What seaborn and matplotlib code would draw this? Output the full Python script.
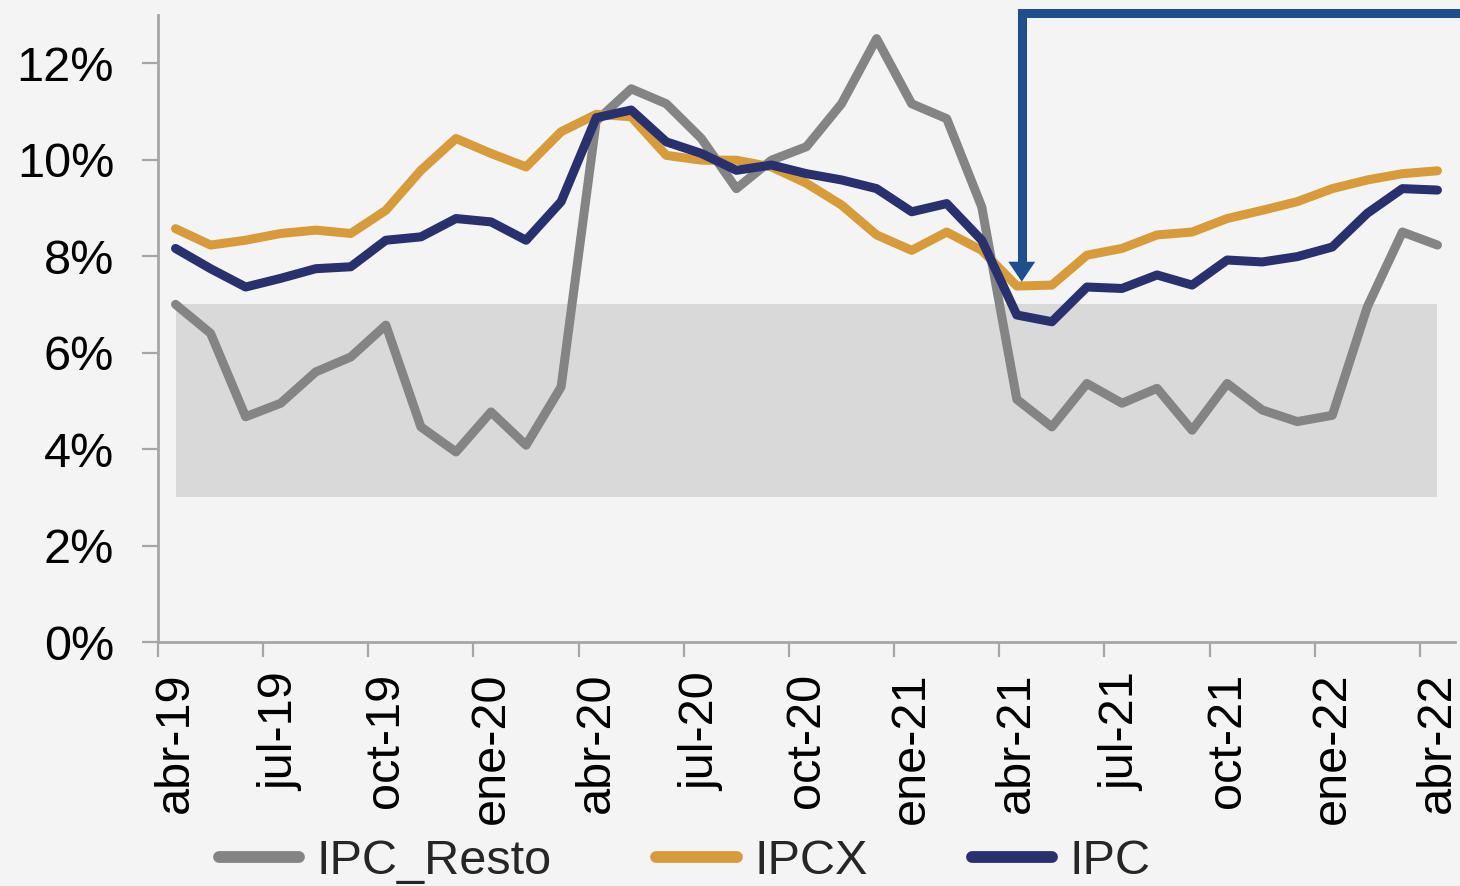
import numpy as np
import pandas as pd
import matplotlib
matplotlib.use("Agg")
import matplotlib.pyplot as plt
import seaborn as sns
from matplotlib.lines import Line2D

# ---------------- data ----------------
months = ["abr-19", "may-19", "jun-19", "jul-19", "ago-19", "sep-19", "oct-19", "nov-19", "dic-19",
          "ene-20", "feb-20", "mar-20", "abr-20", "may-20", "jun-20", "jul-20", "ago-20", "sep-20",
          "oct-20", "nov-20", "dic-20", "ene-21", "feb-21", "mar-21", "abr-21", "may-21", "jun-21",
          "jul-21", "ago-21", "sep-21", "oct-21", "nov-21", "dic-21", "ene-22", "feb-22", "mar-22",
          "abr-22"]

ipc_resto = [7.0, 6.4, 4.67, 4.95, 5.6, 5.91, 6.57, 4.46, 3.94, 4.77,
             4.08, 5.29, 10.8, 11.47, 11.16, 10.44, 9.40, 9.99, 10.27, 11.16,
             12.51, 11.16, 10.85, 9.02, 5.03, 4.46, 5.36, 4.95, 5.26, 4.39,
             5.36, 4.81, 4.57, 4.70, 6.95, 8.50, 8.23]
ipcx = [8.57, 8.23, 8.33, 8.47, 8.54, 8.47, 8.95, 9.78, 10.44, 10.13,
        9.85, 10.58, 10.94, 10.89, 10.09, 9.99, 9.99, 9.85, 9.51, 9.06,
        8.44, 8.12, 8.50, 8.12, 7.38, 7.40, 8.02, 8.16, 8.44, 8.50,
        8.78, 8.95, 9.13, 9.40, 9.58, 9.71, 9.77]
ipc = [8.16, 7.74, 7.36, 7.54, 7.74, 7.78, 8.33, 8.40, 8.78, 8.71,
       8.33, 9.13, 10.87, 11.03, 10.37, 10.13, 9.78, 9.89, 9.71, 9.58,
       9.40, 8.92, 9.09, 8.33, 6.78, 6.64, 7.36, 7.33, 7.61, 7.40,
       7.92, 7.88, 7.99, 8.19, 8.89, 9.40, 9.37]

series_names = ["IPC_Resto", "IPCX", "IPC"]
band_low, band_high = 3, 7          # target range band (%)
y_ticks = [0, 2, 4, 6, 8, 10, 12]
y_labels = ["0%", "2%", "4%", "6%", "8%", "10%", "12%"]
arrow_month = "abr-21"
arrow_tip_value = 7.47

# ---------------- style ----------------
bg = "#F4F4F4"
axis_col = "#A6A6A6"
colors = {"IPC_Resto": "#848484", "IPCX": "#D89B3C", "IPC": "#28306E"}
arrow_col = "#1F4E8C"

sns.set_theme(style="white")
plt.rcParams["font.family"] = ["Liberation Sans", "DejaVu Sans"]
plt.rcParams["figure.facecolor"] = bg
plt.rcParams["axes.facecolor"] = bg

fig = plt.figure(figsize=(14.6, 8.86), dpi=100)
ax = fig.add_axes([158 / 1460, 1 - 642 / 886, (1455 - 158) / 1460, (642 - 15) / 886])
ax.set_facecolor(bg)

pos = np.arange(len(months))
df = pd.DataFrame({
    "pos": np.concatenate([pos, pos, pos]),
    "valor": ipc_resto + ipcx + ipc,
    "serie": np.repeat(series_names, len(months)),
})

# band
ax.fill_between(pos, band_low, band_high, color="#D9D9D9", lw=0, zorder=1)

sns.lineplot(data=df, x="pos", y="valor", hue="serie", hue_order=series_names,
             palette=colors, lw=6.5, ax=ax, legend=False, zorder=3)

# axes
ax.set_xlim(-0.5, len(months) - 0.5)
ax.set_ylim(0, 13)
ax.set_xlabel("")
ax.set_ylabel("")
for s in ["top", "right"]:
    ax.spines[s].set_visible(False)
for s in ["left", "bottom"]:
    ax.spines[s].set_color(axis_col)
    ax.spines[s].set_linewidth(2)

ax.set_yticks(y_ticks)
ax.set_yticklabels(y_labels)
ax.tick_params(axis="y", which="major", direction="out", length=11.5, width=1.6,
               color=axis_col, pad=20, labelsize=35, labelcolor="black", left=True)

# category boundaries as major ticks, labels at category centers as minor ticks
ax.set_xticks(np.arange(-0.5, len(months), 3))
ax.set_xticklabels([])
ax.set_xticks(pos[::3], minor=True)
ax.set_xticklabels(months[::3], minor=True, rotation=90, ha="center", va="top")
ax.tick_params(axis="x", which="major", direction="out", length=11, width=1.6,
               color=axis_col, bottom=True)
ax.tick_params(axis="x", which="minor", length=0, pad=22, labelsize=35,
               labelcolor="black", bottom=True)

# arrow annotation
ax_x = months.index(arrow_month) + 0.14
top_y = 13.05
ax.plot([len(months) - 0.3, ax_x, ax_x], [top_y, top_y, arrow_tip_value + 0.38],
        color=arrow_col, lw=6.5, solid_joinstyle="miter", solid_capstyle="butt",
        clip_on=False, zorder=5)
ax.annotate("", xy=(ax_x, arrow_tip_value), xytext=(ax_x, arrow_tip_value + 0.6),
            arrowprops=dict(arrowstyle="-|>,head_length=1.44,head_width=0.97",
                            mutation_scale=10, lw=0, fc=arrow_col, ec=arrow_col,
                            shrinkA=0, shrinkB=0),
            zorder=5, annotation_clip=False)

# legend
handles = [Line2D([0], [0], color=colors[n], lw=8.5, solid_capstyle="round") for n in series_names]
fig.legend(handles, series_names, loc="center left", bbox_to_anchor=(219 / 1460, 1 - 862 / 886),
           ncol=3, frameon=False, fontsize=35, handlelength=1.65, handletextpad=0.36,
           columnspacing=2.15, borderpad=0, borderaxespad=0)

fig.savefig("out.png", dpi=100, facecolor=bg)
